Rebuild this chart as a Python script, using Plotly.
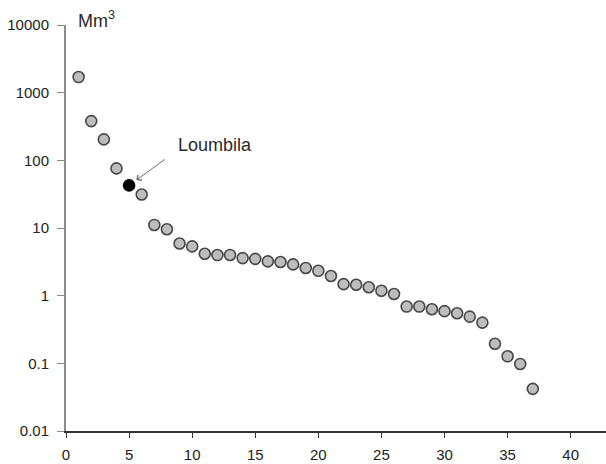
import math
import plotly.graph_objects as go

ranks = list(range(1, 38))
volumes = [1700, 380, 204, 76, 42.6, 31.3, 11.1, 9.6, 5.9, 5.35,
           4.16, 3.98, 4.0, 3.59, 3.5, 3.21, 3.15, 2.9, 2.56, 2.33,
           1.95, 1.48, 1.45, 1.33, 1.18, 1.06, 0.69, 0.69, 0.63, 0.59,
           0.55, 0.49, 0.40, 0.195, 0.127, 0.098, 0.042]
highlight_index = 4  # Loumbila (rank 5)
highlight_label = "Loumbila"
y_tickvals = [0.01, 0.1, 1, 10, 100, 1000, 10000]
y_ticktext = ["0.01", "0.1", "1", "10", "100", "1000", "10000"]
x_tickvals = [0, 5, 10, 15, 20, 25, 30, 35, 40]

fill = ["#bdbdbd"] * len(ranks)
fill[highlight_index] = "#000000"
line_col = ["#474747"] * len(ranks)
line_col[highlight_index] = "#000000"

FONT = "Liberation Sans, Arial, sans-serif"

L, R, T, B = 66, 0, 25, 33
W, H = 606, 464
pw, ph = W - L - R, H - T - B

fig = go.Figure()
fig.add_trace(go.Scatter(
    x=ranks, y=volumes, mode="markers",
    marker=dict(size=11, color=fill, line=dict(color=line_col, width=1.6)),
    showlegend=False, cliponaxis=False,
))

fig.add_annotation(
    x=ranks[highlight_index], y=math.log10(volumes[highlight_index]),
    xref="x", yref="y", text="", showarrow=True,
    ax=37, ay=-27, arrowhead=4, arrowsize=1.3, arrowwidth=1, arrowcolor="#6e6e6e",
    standoff=9,
)
fig.add_annotation(
    x=(176 - L) / pw, y=(H - B - 145) / ph, xref="paper", yref="paper",
    text=highlight_label, showarrow=False, xanchor="left", yanchor="middle",
    font=dict(family=FONT, size=18, color="#2a2a2a"),
)
fig.add_annotation(
    x=(76 - L) / pw, y=(H - B - 20) / ph, xref="paper", yref="paper",
    text="Mm<sup>3</sup>", showarrow=False, xanchor="left", yanchor="middle",
    font=dict(family=FONT, size=18, color="#2a2a2a"),
)

fig.update_layout(
    width=W, height=H,
    margin=dict(l=L, r=R, t=T, b=B, pad=0),
    paper_bgcolor="white", plot_bgcolor="white",
    font=dict(family=FONT, size=15, color="#222222"),
    xaxis=dict(range=[0, 42.8], tickvals=x_tickvals, showgrid=False, zeroline=False,
               showline=True, linecolor="#333333", linewidth=1.5,
               ticks="outside", ticklen=5, tickcolor="#333333", tickwidth=1,
               ticklabelstandoff=4),
    yaxis=dict(type="log", range=[-2, 4], tickvals=y_tickvals, ticktext=y_ticktext,
               showgrid=False, zeroline=False,
               showline=True, linecolor="#8c8c8c", linewidth=2,
               ticks="outside", ticklen=7, tickcolor="#8c8c8c", tickwidth=1,
               ticklabelstandoff=5),
)

fig.write_html("out.html")
